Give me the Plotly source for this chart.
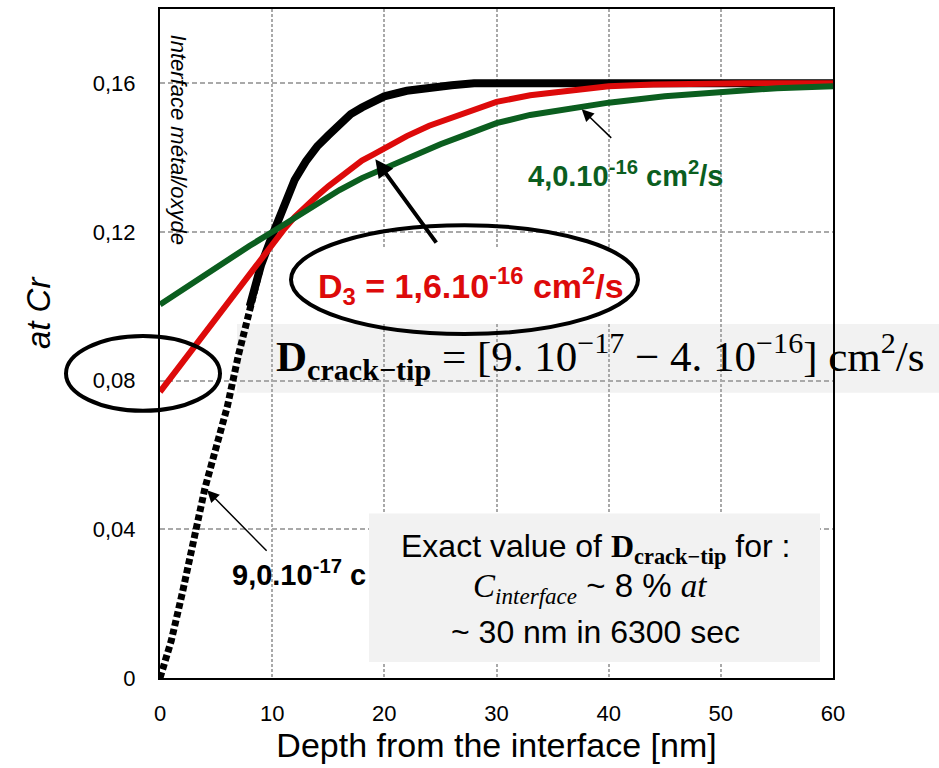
import plotly.graph_objects as go

# Cr profiles (depth in nm, atomic fraction Cr)
depth_black = [0, 1, 2, 3, 4, 5, 6, 7, 8, 9, 10, 11, 12, 13, 14, 15, 16, 17, 18, 19,
               20, 22, 24, 26, 28, 30, 35, 40, 45, 50, 55, 60]
cr_black = [0.0, 0.010, 0.023, 0.038, 0.051, 0.062, 0.073, 0.087, 0.100, 0.111, 0.119,
            0.127, 0.134, 0.139, 0.143, 0.146, 0.149, 0.1517, 0.1535, 0.155, 0.1565,
            0.158, 0.159, 0.1595, 0.160, 0.160, 0.160, 0.160, 0.160, 0.160, 0.160, 0.160]

depth_red = [0, 1, 2, 3, 4, 5, 6, 7, 8, 9, 10, 11, 12, 13, 14, 15, 16, 17, 18, 19,
             20, 22, 24, 26, 28, 30, 33, 36, 40, 44, 48, 52, 56, 60]
cr_red = [0.077, 0.081, 0.085, 0.089, 0.093, 0.097, 0.101, 0.105, 0.109, 0.113, 0.117,
          0.1205, 0.124, 0.127, 0.1297, 0.1323, 0.1347, 0.137, 0.1392, 0.1408, 0.1426,
          0.1458, 0.1486, 0.1508, 0.1527, 0.1550, 0.1568, 0.1580, 0.1592, 0.1597,
          0.1600, 0.1600, 0.1600, 0.1600]

depth_green = [0, 2, 4, 6, 8, 10, 12, 14, 16, 18, 20, 22, 25, 28, 30, 33, 37, 40, 45,
               50, 55, 60]
cr_green = [0.1005, 0.1045, 0.1085, 0.1125, 0.1163, 0.1200, 0.1237, 0.1275, 0.1313,
            0.1345, 0.1372, 0.1398, 0.1436, 0.1470, 0.1493, 0.1515, 0.1533, 0.1548,
            0.1565, 0.1578, 0.1587, 0.1592]

y_ticks = [0, 0.04, 0.08, 0.12, 0.16]
y_ticktext = ["0", "0,04", "0,08", "0,12", "0,16"]
x_ticks = [0, 10, 20, 30, 40, 50, 60]

# plot area in pixels, used to place shapes and notes
L, R, T, B = 160, 833, 7, 678


def px(x):
    return (x - L) / (R - L)


def py(y):
    return (B - y) / (B - T)


n_low = depth_black.index(9) + 1

fig = go.Figure()

# lower part of the black curve shows the individual square points
fig.add_trace(go.Scatter(
    x=depth_black[:n_low], y=cr_black[:n_low], mode='lines',
    line=dict(color='black', width=7, dash='6px,3px'),
    cliponaxis=False, hoverinfo='skip'
))
fig.add_trace(go.Scatter(
    x=depth_black[n_low - 2:], y=cr_black[n_low - 2:], mode='lines',
    line=dict(color='black', width=8), hoverinfo='skip'
))
fig.add_trace(go.Scatter(
    x=depth_red, y=cr_red, mode='lines',
    line=dict(color='#dd0a0a', width=6), hoverinfo='skip'
))
fig.add_trace(go.Scatter(
    x=depth_green, y=cr_green, mode='lines',
    line=dict(color='#0b5e1f', width=6), hoverinfo='skip'
))

shapes = [
    # grey band behind the range formula (under the grid)
    dict(type='rect', xref='paper', yref='paper', layer='below',
         x0=px(237), x1=px(939), y0=py(392), y1=py(323),
         fillcolor='#f2f2f2', line=dict(width=0)),
    # white patch behind the red label
    dict(type='rect', xref='paper', yref='paper', layer='above',
         x0=px(293), x1=px(632), y0=py(323), y1=py(246),
         fillcolor='white', line=dict(width=0)),
    dict(type='circle', xref='paper', yref='paper', layer='above',
         x0=px(291), x1=px(638), y0=py(333), y1=py(224),
         line=dict(color='black', width=4)),
    dict(type='circle', xref='paper', yref='paper', layer='above',
         x0=px(66), x1=px(220), y0=py(410), y1=py(335),
         line=dict(color='black', width=4)),
    # grey box of the lower note (covers the grid)
    dict(type='rect', xref='paper', yref='paper', layer='above',
         x0=px(369), x1=px(820), y0=py(662), y1=py(513),
         fillcolor='#f2f2f2', line=dict(width=0)),
]

serif = "font-family:'Liberation Serif'"
annotations = [
    dict(x=px(38), y=py(311), text='<i>at Cr</i>', textangle=-90,
         font=dict(size=33, color='black')),
    dict(x=px(178), y=py(138), text='<i>Interface métal/oxyde</i>', textangle=90,
         font=dict(size=22, color='black')),
    dict(x=px(625), y=py(172),
         text='<b>4,0.10<sup>-16</sup> cm<sup>2</sup>/s</b>',
         font=dict(size=29, color='#0b5e1f')),
    dict(x=px(471), y=py(285),
         text='<b>D<sub>3</sub> = 1,6.10<sup>-16</sup> cm<sup>2</sup>/s</b>',
         font=dict(size=34, color='#dd0a0a')),
    dict(x=px(299), y=py(573), xanchor='center',
         text='<b>9,0.10<sup>-17</sup> c</b>',
         font=dict(size=29, color='black')),
    dict(x=px(600), y=py(356),
         text='<b>D<sub>crack−tip</sub></b> = [9. 10<sup>−17</sup> − 4. 10<sup>−16</sup>] cm<sup>2</sup>/s',
         font=dict(size=43, color='black', family='Liberation Serif')),
    dict(x=px(595), y=py(548),
         text='Exact value of <span style="' + serif + '"><b>D<sub>crack−tip</sub></b></span> for :',
         font=dict(size=32, color='black')),
    dict(x=px(590), y=py(588),
         text='<span style="' + serif + '"><i>C<sub>interface</sub></i></span> ~ 8 % '
              '<span style="' + serif + '"><i>at</i></span>',
         font=dict(size=33, color='black')),
    dict(x=px(595), y=py(632), text='~ 30 nm in 6300 sec',
         font=dict(size=32, color='black')),
]
for a in annotations:
    a.update(xref='paper', yref='paper', showarrow=False)
    a.setdefault('xanchor', 'center')
    a.setdefault('yanchor', 'middle')

# arrows pointing at the curves
arrows = [
    dict(x=37.6, y=0.153, ax=31, ay=30, aw=1.5),
    dict(x=19.2, y=0.1396, ax=62, ay=85, aw=4),
    dict(x=4.2, y=0.0505, ax=61, ay=62, aw=1.5),
]
for a in arrows:
    annotations.append(dict(x=a['x'], y=a['y'], xref='x', yref='y', text='',
                            showarrow=True, ax=a['ax'], ay=a['ay'],
                            arrowhead=2, arrowsize=1.6 if a['aw'] < 2 else 0.9,
                            arrowwidth=a['aw'], arrowcolor='black'))

fig.update_layout(
    width=939, height=768, autosize=False,
    margin=dict(l=L, r=939 - R, t=T, b=768 - B),
    paper_bgcolor='white', plot_bgcolor='white',
    showlegend=False,
    font=dict(family='Liberation Sans', color='black'),
    shapes=shapes, annotations=annotations,
    xaxis=dict(
        range=[0, 60], tickvals=x_ticks, ticks='', ticklabelstandoff=15,
        tickfont=dict(size=22, color='black'),
        showgrid=True, gridcolor='#a9a9a9', gridwidth=2, griddash='3px,2px',
        showline=True, linecolor='black', linewidth=2, mirror=True, zeroline=False,
        title=dict(text='Depth from the interface [nm]', font=dict(size=34), standoff=3),
    ),
    yaxis=dict(
        range=[0, 0.18], tickvals=y_ticks, ticktext=y_ticktext, ticks='',
        ticklabelstandoff=18, tickfont=dict(size=22, color='black'),
        showgrid=True, gridcolor='#a9a9a9', gridwidth=2, griddash='5px,3px',
        showline=True, linecolor='black', linewidth=2, mirror=True, zeroline=False,
    ),
)

# the page body has a default 8px margin; remove it so the chart sits at 0,0
fig.write_html("out.html", config={'displayModeBar': False},
               post_script="document.body.style.margin='0';")
